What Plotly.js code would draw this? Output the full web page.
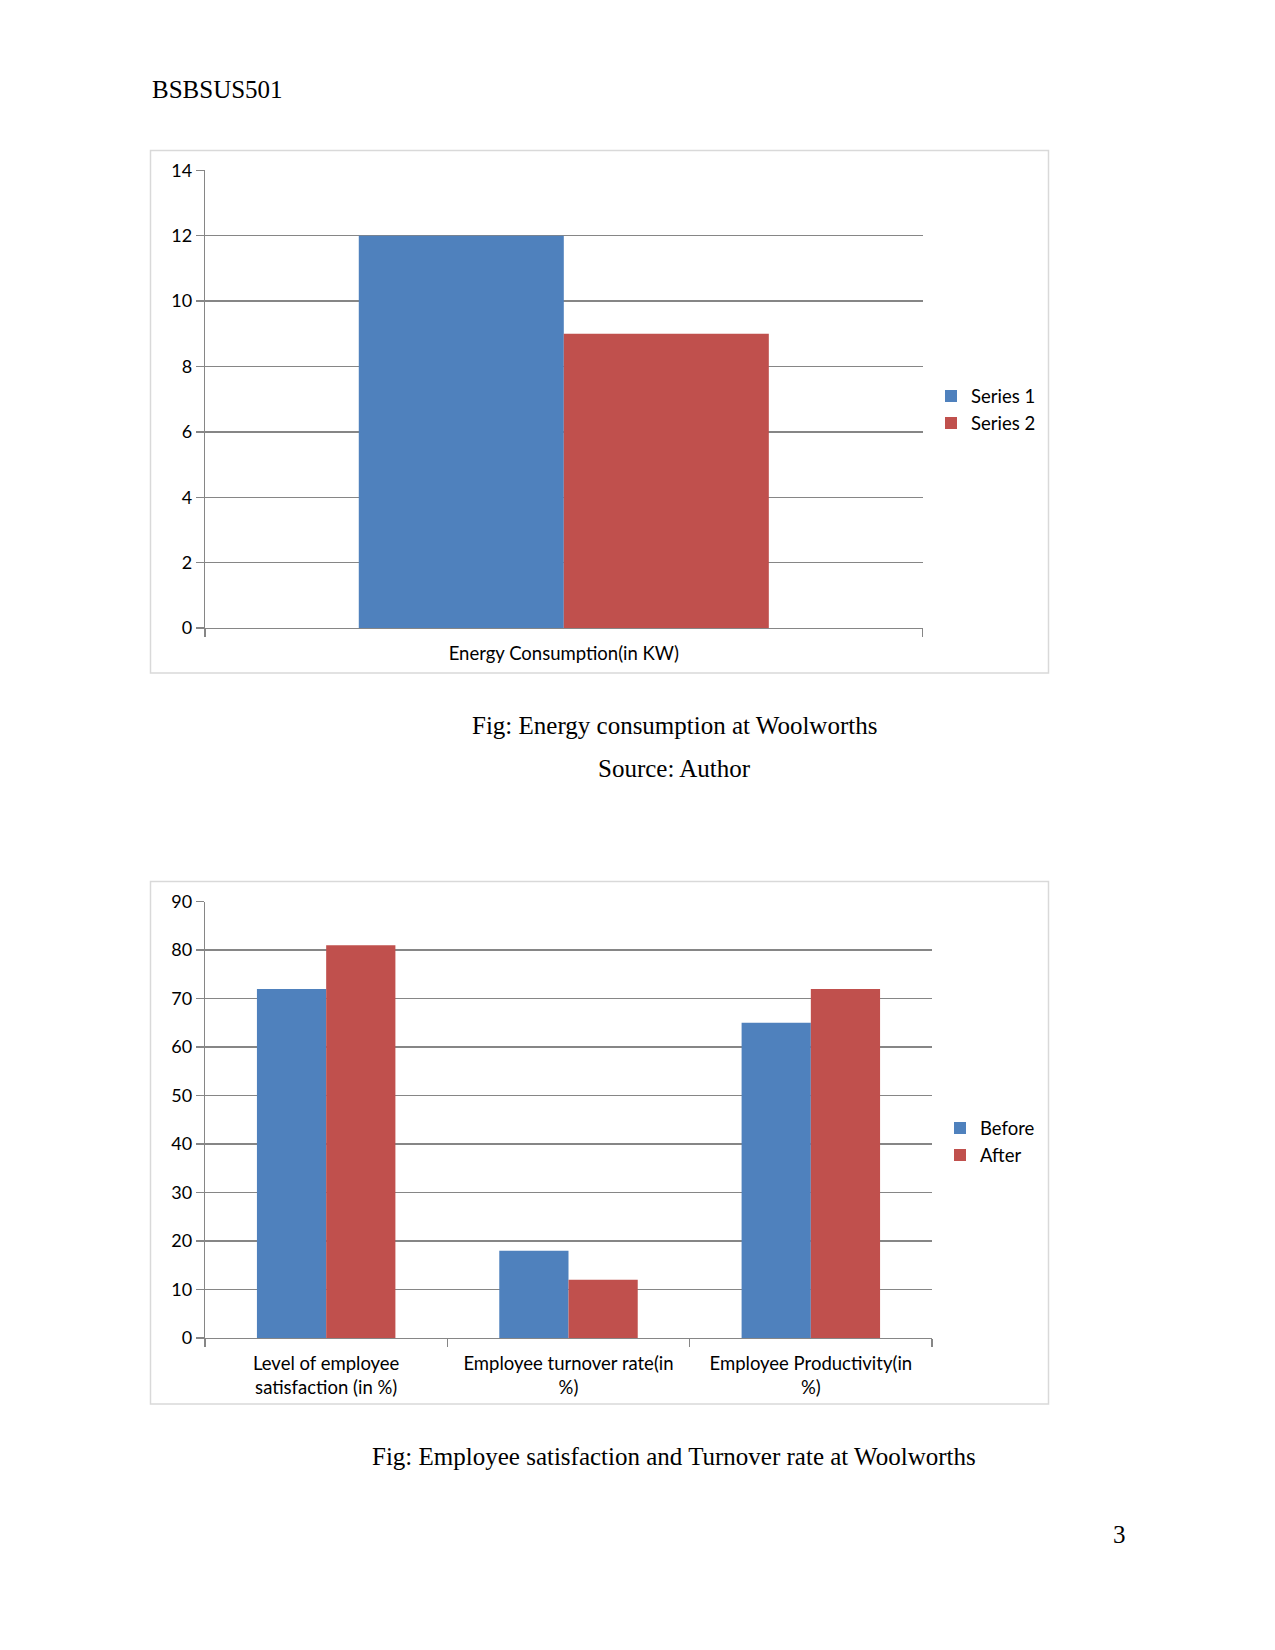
<!DOCTYPE html>
<html>
<head>
<meta charset="utf-8">
<script src="https://cdn.plot.ly/plotly-3.0.1.min.js"></script>
<style>
  html, body { margin: 0; padding: 0; background: #ffffff; }
  #chart { width: 1275px; height: 1650px; }
</style>
</head>
<body>
<div id="chart"></div>
<script>
// ---- Data ----
const energyCategories = ['Energy Consumption(in KW)'];
const energySeries1 = [12];
const energySeries2 = [9];
const energyNames = ['Series 1', 'Series 2'];

const empCategories = ['Level of employee<br>satisfaction (in %)', 'Employee turnover rate(in<br>%)', 'Employee Productivity(in<br>%)'];
const empBefore = [72, 18, 65];
const empAfter = [81, 12, 72];
const empNames = ['Before', 'After'];

const energyTicks = [0, 2, 4, 6, 8, 10, 12, 14];
const empTicks = [0, 10, 20, 30, 40, 50, 60, 70, 80, 90];

// ---- Page geometry helpers ----
const W = 1275, H = 1650;
const px = v => v / W;
const py = v => 1 - v / H;

const BLUE = '#4F81BD';
const RED = '#C0504D';
const GRID = '#868686';
const chartFont = { family: 'Lato, "Open Sans", sans-serif', size: 18.5, color: '#000000' };
const tickFont = { family: 'Lato, "Open Sans", sans-serif', size: 18, color: '#000000' };
const serif = 'Liberation Serif, "Times New Roman", serif';
const pageFont = { family: serif, size: 25, color: '#000' };

const traces = [
  { type: 'bar', x: energyCategories, y: energySeries1, name: energyNames[0], marker: { color: BLUE }, xaxis: 'x', yaxis: 'y', legend: 'legend' },
  { type: 'bar', x: energyCategories, y: energySeries2, name: energyNames[1], marker: { color: RED }, xaxis: 'x', yaxis: 'y', legend: 'legend' },
  { type: 'bar', x: empCategories, y: empBefore, name: empNames[0], marker: { color: BLUE }, xaxis: 'x2', yaxis: 'y2', legend: 'legend2' },
  { type: 'bar', x: empCategories, y: empAfter, name: empNames[1], marker: { color: RED }, xaxis: 'x2', yaxis: 'y2', legend: 'legend2' }
];

function xAxis(domain, anchor, standoff) {
  return {
    domain: domain, anchor: anchor, type: 'category',
    showgrid: false, showline: true, linecolor: GRID, linewidth: 1.3,
    ticks: 'outside', tickson: 'boundaries', ticklen: 8, tickcolor: GRID, tickwidth: 1.3,
    ticklabelstandoff: standoff,
    tickfont: chartFont, fixedrange: true
  };
}
function yAxis(domain, anchor, range, ticks) {
  return {
    domain: domain, anchor: anchor, range: range,
    tickmode: 'array', tickvals: ticks, ticktext: ticks.map(String),
    showgrid: true, gridcolor: GRID, gridwidth: 1.3,
    zeroline: false, showline: true, linecolor: GRID, linewidth: 1.3,
    ticks: 'outside', ticklen: 8, tickcolor: GRID, tickwidth: 1.3,
    tickfont: tickFont, fixedrange: true
  };
}

const layout = {
  width: W, height: H,
  margin: { l: 0, r: 0, t: 0, b: 0, pad: 0 },
  paper_bgcolor: '#ffffff', plot_bgcolor: 'rgba(0,0,0,0)',
  barmode: 'group', bargap: 0.4286, bargroupgap: 0,
  font: chartFont,
  xaxis: xAxis([px(205), px(922.6)], 'y', 8),
  yaxis: yAxis([py(628), py(170.4)], 'x', [0, 14], energyTicks),
  xaxis2: xAxis([px(205), px(932)], 'y2', 8),
  yaxis2: yAxis([py(1338), py(901.6)], 'x2', [0, 90], empTicks),
  legend: {
    x: px(931), y: py(410), xanchor: 'left', yanchor: 'middle',
    font: chartFont, bgcolor: 'rgba(0,0,0,0)', borderwidth: 0,
    itemclick: false, itemdoubleclick: false
  },
  legend2: {
    x: px(940), y: py(1142), xanchor: 'left', yanchor: 'middle',
    font: chartFont, bgcolor: 'rgba(0,0,0,0)', borderwidth: 0,
    itemclick: false, itemdoubleclick: false
  },
  shapes: [
    { type: 'rect', xref: 'paper', yref: 'paper', x0: px(150.5), x1: px(1048.5), y0: py(673), y1: py(150.5), line: { color: '#D9D9D9', width: 1.5 } },
    { type: 'rect', xref: 'paper', yref: 'paper', x0: px(150.5), x1: px(1048.5), y0: py(1404), y1: py(881.5), line: { color: '#D9D9D9', width: 1.5 } }
  ],
  annotations: [
    { text: 'BSBSUS501', xref: 'paper', yref: 'paper', x: px(150), y: py(89), xanchor: 'left', yanchor: 'middle', showarrow: false, font: pageFont },
    { text: 'Fig: Energy consumption at Woolworths', xref: 'paper', yref: 'paper', x: px(674), y: py(725), xanchor: 'center', yanchor: 'middle', showarrow: false, font: pageFont },
    { text: 'Source: Author', xref: 'paper', yref: 'paper', x: px(674), y: py(768), xanchor: 'center', yanchor: 'middle', showarrow: false, font: pageFont },
    { text: 'Fig: Employee satisfaction and Turnover rate at Woolworths', xref: 'paper', yref: 'paper', x: px(674), y: py(1456), xanchor: 'center', yanchor: 'middle', showarrow: false, font: pageFont },
    { text: '3', xref: 'paper', yref: 'paper', x: px(1119), y: py(1534), xanchor: 'center', yanchor: 'middle', showarrow: false, font: pageFont }
  ]
};

Plotly.newPlot('chart', traces, layout, { staticPlot: true, displayModeBar: false });
</script>
</body>
</html>
